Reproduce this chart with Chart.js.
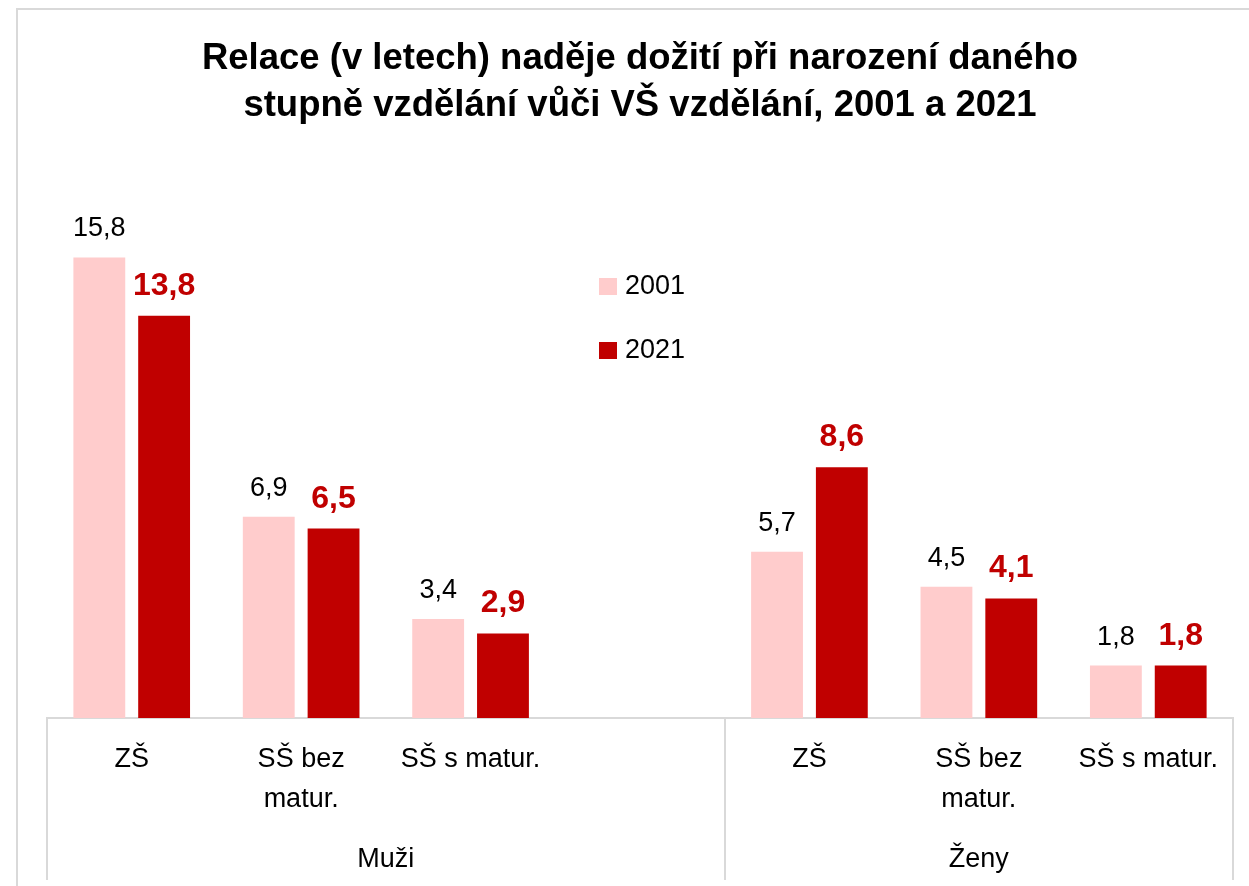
<!DOCTYPE html>
<html>
<head>
<meta charset="utf-8">
<script src="https://cdn.jsdelivr.net/npm/chart.js@4/dist/chart.umd.min.js"></script>
<style>
  html, body { margin: 0; padding: 0; background: #ffffff; }
  #c { display: block; }
</style>
</head>
<body>
<canvas id="c" width="1249" height="886"></canvas>
<script>
// ---- data ----
const categories = [
  ['ZŠ'], ['SŠ bez', 'matur.'], ['SŠ s matur.'], [''],
  ['ZŠ'], ['SŠ bez', 'matur.'], ['SŠ s matur.']
];
const groups = ['Muži', 'Ženy'];
const groupSizes = [4, 3];
const series2001 = [15.8, 6.9, 3.4, null, 5.7, 4.5, 1.8];
const series2021 = [13.8, 6.5, 2.9, null, 8.6, 4.1, 1.8];
const seriesNames = ['2001', '2021'];
const titleLines = ['Relace (v letech) naděje dožití při narození daného',
                    'stupně vzdělání vůči VŠ vzdělání, 2001 a 2021'];

// ---- styles ----
const FONT = "'Liberation Sans', Arial, sans-serif";
const C2001 = '#FFCCCC';
const C2021 = '#C00000';
const GRID = '#D9D9D9';

const fmt = v => v.toFixed(1).replace('.', ',');

const decorPlugin = {
  id: 'decor',
  afterDraw(chart) {
    const ctx = chart.ctx;
    const x = chart.scales.x;
    const area = chart.chartArea;
    const catW = (area.right - area.left) / categories.length;
    ctx.save();
    // outer frame
    ctx.strokeStyle = GRID;
    ctx.lineWidth = 2;
    ctx.beginPath();
    ctx.moveTo(17, 886);
    ctx.lineTo(17, 9);
    ctx.lineTo(1249, 9);
    ctx.stroke();

    // group separators + labels
    ctx.lineWidth = 2;
    let start = 0;
    const bounds = [];
    for (let g = 0; g < groups.length; g++) {
      const l = x.getPixelForValue(start) - catW / 2;
      const r = x.getPixelForValue(start + groupSizes[g] - 1) + catW / 2;
      bounds.push(l, r);
      ctx.fillStyle = '#000';
      ctx.font = '27px ' + FONT;
      ctx.textAlign = 'center';
      ctx.textBaseline = 'middle';
      ctx.fillText(groups[g], (l + r) / 2, 860);
      start += groupSizes[g];
    }
    const uniq = [...new Set(bounds.map(b => Math.round(b)))];
    ctx.beginPath();
    uniq.forEach(b => { ctx.moveTo(b, area.bottom); ctx.lineTo(b, 880); });
    ctx.stroke();

    // data labels
    chart.data.datasets.forEach((ds, di) => {
      const meta = chart.getDatasetMeta(di);
      meta.data.forEach((bar, i) => {
        const v = ds.data[i];
        if (v === null || v === undefined) return;
        if (di === 0) { ctx.font = '27px ' + FONT; ctx.fillStyle = '#000'; }
        else { ctx.font = 'bold 32px ' + FONT; ctx.fillStyle = C2021; }
        ctx.textAlign = 'center';
        ctx.textBaseline = 'alphabetic';
        ctx.fillText(fmt(v), bar.x, bar.y - 21);
      });
    });

    // legend
    const legY = [286, 350];
    chart.data.datasets.forEach((ds, di) => {
      ctx.fillStyle = ds.backgroundColor;
      ctx.fillRect(599, legY[di] - 8, 18, 17);
      ctx.fillStyle = '#000';
      ctx.font = '27px ' + FONT;
      ctx.textAlign = 'left';
      ctx.textBaseline = 'middle';
      ctx.fillText(ds.label, 625, legY[di] + 1);
    });
    ctx.restore();
  }
};

new Chart(document.getElementById('c'), {
  type: 'bar',
  data: {
    labels: categories,
    datasets: [
      { label: seriesNames[0], data: series2001, backgroundColor: C2001 },
      { label: seriesNames[1], data: series2021, backgroundColor: C2021 }
    ]
  },
  options: {
    responsive: false,
    animation: false,
    devicePixelRatio: 1,
    layout: { padding: { left: 47, right: 16, top: 0, bottom: 0 } },
    datasets: { bar: { categoryPercentage: 0.765, barPercentage: 0.8 } },
    plugins: {
      legend: { display: false },
      tooltip: { enabled: false },
      title: {
        display: true,
        text: titleLines,
        color: '#000',
        font: { family: FONT, size: 36.5, weight: 'bold', lineHeight: 1.288 },
        padding: { top: 35.5, bottom: 5.5 }
      }
    },
    scales: {
      x: {
        grid: { display: false, drawTicks: false },
        border: { display: true, color: GRID, width: 2 },
        ticks: {
          color: '#000',
          font: { family: FONT, size: 27, lineHeight: 1.48 },
          padding: 22,
          autoSkip: false,
          maxRotation: 0,
          minRotation: 0
        },
        afterFit(scale) { scale.height = 168; }
      },
      y: {
        display: false,
        min: 0,
        max: 20
      }
    }
  },
  plugins: [decorPlugin]
});
</script>
</body>
</html>
